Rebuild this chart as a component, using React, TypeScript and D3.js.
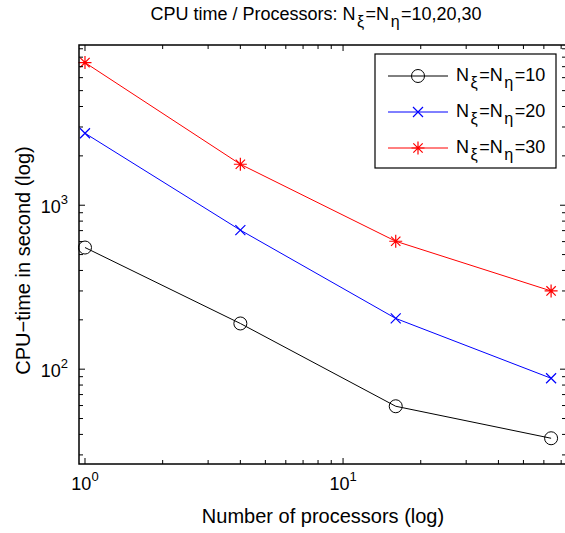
import React from 'react';
import * as d3 from 'd3';

const processors = [1, 4, 16, 64];
const cpu10 = [552, 190, 59.4, 37.9];
const cpu20 = [2748, 705, 204, 88];
const cpu30 = [7413, 1778, 603, 300];
const seriesValues = [cpu10, cpu20, cpu30];
const seriesLabels = ['10', '20', '30'];
const seriesColors = ['#000000', '#0000ff', '#ff0000'];
const seriesMarkers = ['circle', 'x', 'star'];
const xTickExps = [0, 1];
const yTickExps = [2, 3];

const W = 565;
const H = 533;
const FONT = 'Liberation Sans, Arial, Helvetica, sans-serif';

function Marker({ type, x, y, color }: { type: string; x: number; y: number; color: string }) {
  if (type === 'circle') return <circle cx={x} cy={y} r={6.5} fill="none" stroke={color} strokeWidth={1} />;
  const s = 5;
  if (type === 'x')
    return (
      <path d={`M${x - s},${y - s}L${x + s},${y + s}M${x - s},${y + s}L${x + s},${y - s}`} stroke={color} strokeWidth={1.2} />
    );
  const t = 6.5;
  const d = t * 0.72;
  return (
    <path
      d={`M${x - t},${y}L${x + t},${y}M${x},${y - t}L${x},${y + t}M${x - d},${y - d}L${x + d},${y + d}M${x - d},${y + d}L${x + d},${y - d}`}
      stroke={color}
      strokeWidth={1.2}
    />
  );
}

function NLabel({ x, y, val, size }: { x: number; y: number; val: string; size: number }) {
  const sub = size * 0.4;
  return (
    <text x={x} y={y} fontSize={size} fontFamily={FONT} fill="#000">
      <tspan>N</tspan>
      <tspan dx={1.5} dy={sub} fontSize={size * 0.9}>ξ</tspan>
      <tspan dx={1.5} dy={-sub}>=N</tspan>
      <tspan dx={1.5} dy={sub} fontSize={size * 0.9}>η</tspan>
      <tspan dx={1.5} dy={-sub}>={val}</tspan>
    </text>
  );
}

export default function App() {
  const left = 79, right = 566, top = 45, bottom = 464;
  const x = d3.scaleLog().domain([0.948, 73.1]).range([left, right]);
  const y = d3.scaleLog().domain([26.4, 9490]).range([bottom, top]);

  const xMinor: number[] = [];
  for (let e = -1; e <= 2; e++) for (let m = 1; m <= 9; m++) {
    const v = m * Math.pow(10, e);
    if (v >= x.domain()[0] && v <= x.domain()[1]) xMinor.push(v);
  }
  const yMinor: number[] = [];
  for (let e = 1; e <= 4; e++) for (let m = 1; m <= 9; m++) {
    const v = m * Math.pow(10, e);
    if (v >= y.domain()[0] && v <= y.domain()[1]) yMinor.push(v);
  }
  const isMajor = (v: number) => Math.abs(Math.log10(v) - Math.round(Math.log10(v))) < 1e-9;

  const line = d3
    .line<number>()
    .x((_, i) => x(processors[i]))
    .y((d) => y(d));

  const legX = 375, legY = 54, legW = 181, legH = 114;
  const rowY = [76, 112, 148];

  return (
    <svg width={W} height={H} style={{ position: 'absolute', left: 0, top: 0, background: '#fff' }}>
      <rect x={0} y={0} width={W} height={H} fill="#fff" />
      {/* title */}
      <text x={316} y={20} fontSize={18} fontFamily={FONT} textAnchor="middle">
        <tspan>CPU time / Processors: N</tspan>
        <tspan dx={1.5} dy={7} fontSize={16}>ξ</tspan>
        <tspan dx={1.5} dy={-7}>=N</tspan>
        <tspan dx={1.5} dy={7} fontSize={16}>η</tspan>
        <tspan dx={1.5} dy={-7}>=10,20,30</tspan>
      </text>
      {/* data */}
      {seriesValues.map((vals, si) => (
        <g key={si}>
          <path d={line(vals) || ''} fill="none" stroke={seriesColors[si]} strokeWidth={1} />
          {vals.map((v, i) => (
            <Marker key={i} type={seriesMarkers[si]} x={x(processors[i])} y={y(v)} color={seriesColors[si]} />
          ))}
        </g>
      ))}
      {/* axes box */}
      <rect x={left} y={top} width={right - left} height={bottom - top} fill="none" stroke="#000" strokeWidth={1.5} />
      {xMinor.map((v, i) => {
        const len = isMajor(v) ? 6 : 4;
        const px = x(v);
        return (
          <g key={'xt' + i}>
            <line x1={px} x2={px} y1={bottom} y2={bottom - len} stroke="#000" strokeWidth={1} />
            <line x1={px} x2={px} y1={top} y2={top + len} stroke="#000" strokeWidth={1} />
          </g>
        );
      })}
      {yMinor.map((v, i) => {
        const len = isMajor(v) ? 6 : 4;
        const py = y(v);
        return (
          <g key={'yt' + i}>
            <line x1={left} x2={left + len} y1={py} y2={py} stroke="#000" strokeWidth={1} />
            <line x1={right} x2={right - len} y1={py} y2={py} stroke="#000" strokeWidth={1} />
          </g>
        );
      })}
      {xTickExps.map((e) => (
        <text key={'xl' + e} x={x(Math.pow(10, e))} y={490} fontSize={18} fontFamily={FONT} textAnchor="middle">
          <tspan>10</tspan>
          <tspan dy={-9} fontSize={13}>{e}</tspan>
        </text>
      ))}
      {yTickExps.map((e) => (
        <text key={'yl' + e} x={68} y={y(Math.pow(10, e)) + 8} fontSize={18} fontFamily={FONT} textAnchor="end">
          <tspan>10</tspan>
          <tspan dy={-9} fontSize={13}>{e}</tspan>
        </text>
      ))}
      <text x={323} y={523} fontSize={20} fontFamily={FONT} textAnchor="middle">Number of processors (log)</text>
      <text transform={`translate(30,${(top + bottom) / 2 + 6}) rotate(-90)`} fontSize={20} fontFamily={FONT} textAnchor="middle">
        CPU−time in second (log)
      </text>
      {/* legend */}
      <rect x={legX} y={legY} width={legW} height={legH} fill="#fff" stroke="#000" strokeWidth={1.2} />
      {seriesLabels.map((lab, i) => (
        <g key={'lg' + i}>
          <line x1={388} x2={448} y1={rowY[i]} y2={rowY[i]} stroke={seriesColors[i]} strokeWidth={1} />
          <Marker type={seriesMarkers[i]} x={418} y={rowY[i]} color={seriesColors[i]} />
          <NLabel x={456} y={rowY[i] + 5} val={lab} size={18} />
        </g>
      ))}
    </svg>
  );
}
